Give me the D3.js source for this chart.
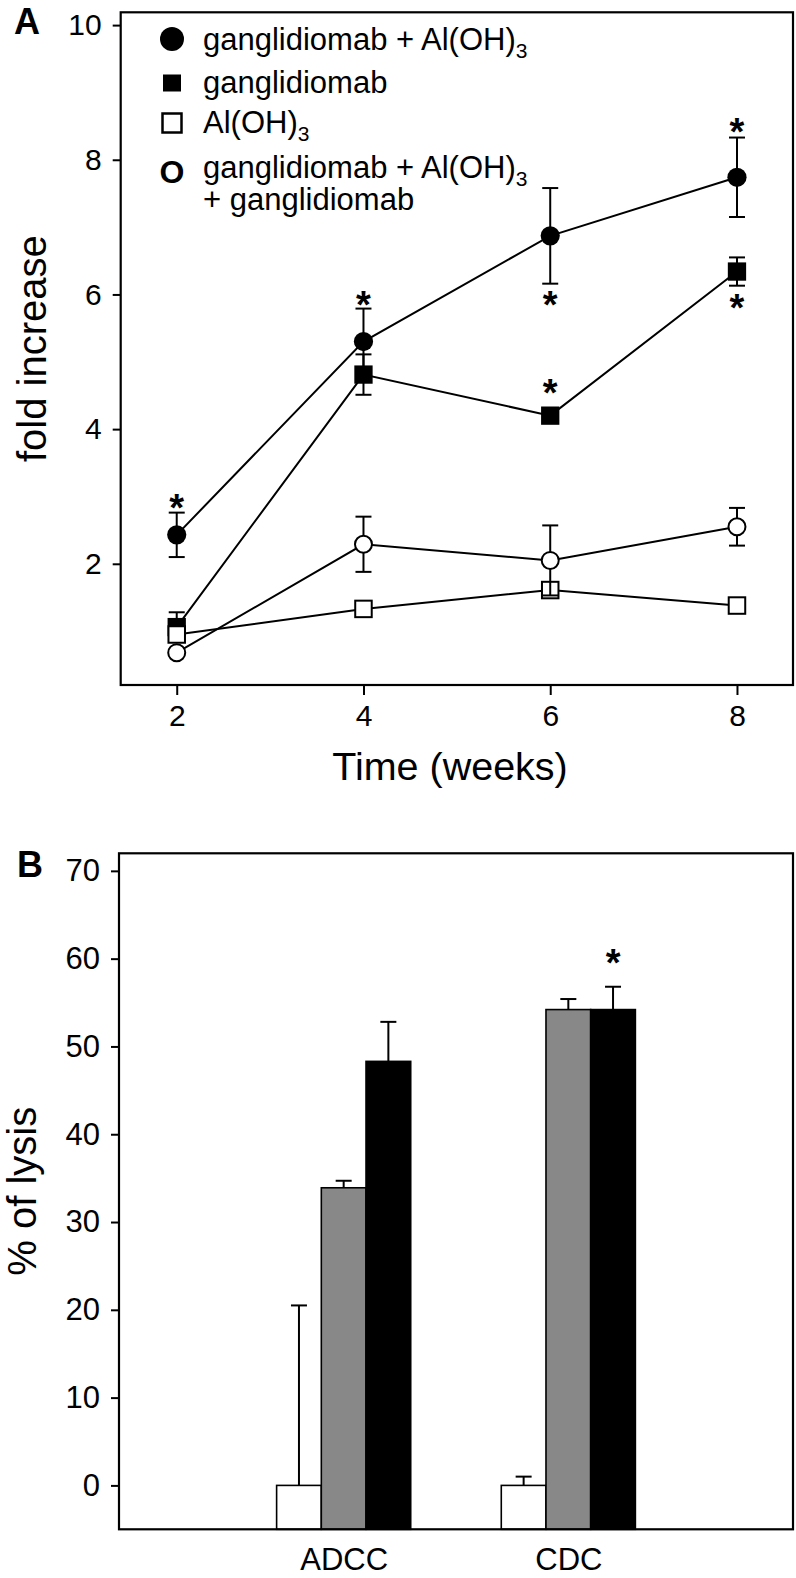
<!DOCTYPE html>
<html><head><meta charset="utf-8">
<script src="https://cdn.jsdelivr.net/npm/d3@7"></script>
<style>body{margin:0;background:#fff} svg{display:block} text{font-family:"Liberation Sans",Arial,Helvetica,sans-serif}</style>
</head><body><svg id="c" width="796" height="1578"></svg>
<script>
// ---------- Panel A data ----------
const weeks = [2, 4, 6, 8];
const xTicksA = [2, 4, 6, 8];
const yTicksA = [2, 4, 6, 8, 10];
const gAlMean = [2.43, 5.30, 6.87, 7.74];   // ganglidiomab + Al(OH)3
const gAlErr  = [0.33, 0.49, 0.71, 0.59];
const gMean   = [1.06, 4.81, 4.20, 6.34];   // ganglidiomab
const gErr    = [0.22, 0.30, 0.00, 0.21];
const alMean  = [0.95, 1.33, 1.61, 1.38];   // Al(OH)3
const alErr   = [0, 0, 0, 0];
const gAlgMean = [0.68, 2.29, 2.05, 2.55];  // ganglidiomab + Al(OH)3 + ganglidiomab
const gAlgErr  = [0, 0.41, 0.52, 0.28];
const starsAWeeks  = [2, 4, 6, 6, 8, 8];
const starsAValues = [2.95, 5.97, 5.96, 4.66, 8.53, 5.92];
const legendLabels = ["ganglidiomab + Al(OH)", "ganglidiomab", "Al(OH)", "ganglidiomab + Al(OH)"];
const legendSub = ["3", "", "3", "3"];
const legendLine2 = ["", "", "", "+ ganglidiomab"];

// ---------- Panel B data ----------
const assays = ["ADCC", "CDC"];
const groupColors = ["#ffffff", "#888888", "#000000"];
const adccMean = [0, 33.9, 48.3];
const adccErr  = [20.5, 0.8, 4.5];
const cdcMean  = [0, 54.2, 54.2];
const cdcErr   = [1.0, 1.2, 2.6];
const yTicksB = [0, 10, 20, 30, 40, 50, 60, 70];
const starsBAssay = ["CDC"];
const starsBGroup = [2];
const starsBValues = [60.5];

const FONT = '"Liberation Sans", Arial, Helvetica, sans-serif';
const svg = d3.select("#c");

function styleAxis(g, fs) {
  g.attr("font-size", fs).attr("font-family", FONT);
  g.select(".domain").remove();
  g.selectAll(".tick line").attr("stroke", "#000").attr("stroke-width", 2);
  g.selectAll(".tick text").attr("fill", "#000");
}
function star(g, x, y) {
  const fs = 38;
  g.append("text").attr("x", x).attr("y", y + 0.56 * fs)
    .attr("text-anchor", "middle").attr("font-size", fs).attr("font-weight", "bold").text("*");
}

// ================= Panel A =================
const A = {x0: 120.7, x1: 793, y0: 12.3, y1: 685};
const xA = d3.scaleLinear().domain([1.4, 8.6]).range([A.x0, A.x1]);
const yA = d3.scaleLinear().domain([0.2, 10.19]).range([A.y1, A.y0]);
const gA = svg.append("g");

gA.append("g").attr("transform", `translate(${A.x0},0)`)
  .call(d3.axisLeft(yA).tickValues(yTicksA).tickSize(8).tickPadding(11))
  .call(g => styleAxis(g, 30));
gA.append("g").attr("transform", `translate(0,${A.y1})`)
  .call(d3.axisBottom(xA).tickValues(xTicksA).tickSize(10).tickPadding(10))
  .call(g => styleAxis(g, 30));
gA.append("rect").attr("x", A.x0).attr("y", A.y0)
  .attr("width", A.x1 - A.x0).attr("height", A.y1 - A.y0)
  .attr("fill", "none").attr("stroke", "#000").attr("stroke-width", 2.2);

const seriesA = [
  {mean: gMean, err: gErr, shape: "square", fill: "#000"},
  {mean: alMean, err: alErr, shape: "square", fill: "#fff"},
  {mean: gAlgMean, err: gAlgErr, shape: "circle", fill: "#fff"},
  {mean: gAlMean, err: gAlErr, shape: "circle", fill: "#000"}
];
const lineA = d3.line().x((d, i) => xA(weeks[i])).y(d => yA(d));
seriesA.forEach(s => {
  gA.append("path").attr("d", lineA(s.mean)).attr("fill", "none")
    .attr("stroke", "#000").attr("stroke-width", 2);
});
seriesA.forEach(s => {
  const eg = gA.append("g").attr("stroke", "#000").attr("stroke-width", 2);
  s.mean.forEach((m, i) => {
    const e = s.err[i];
    if (e <= 0) return;
    const x = xA(weeks[i]);
    eg.append("line").attr("x1", x).attr("x2", x).attr("y1", yA(m - e)).attr("y2", yA(m + e));
    eg.append("line").attr("x1", x - 8).attr("x2", x + 8).attr("y1", yA(m - e)).attr("y2", yA(m - e));
    eg.append("line").attr("x1", x - 8).attr("x2", x + 8).attr("y1", yA(m + e)).attr("y2", yA(m + e));
  });
  const mg = gA.append("g");
  s.mean.forEach((m, i) => {
    const x = xA(weeks[i]), y = yA(m);
    const open = s.fill === "#fff";
    if (s.shape === "circle") {
      mg.append("circle").attr("cx", x).attr("cy", y).attr("r", open ? 8.5 : 9.6)
        .attr("fill", s.fill).attr("stroke", "#000").attr("stroke-width", open ? 2 : 0);
    } else {
      const sz = open ? 16.5 : 18.3;
      mg.append("rect").attr("x", x - sz / 2).attr("y", y - sz / 2).attr("width", sz).attr("height", sz)
        .attr("fill", s.fill).attr("stroke", "#000").attr("stroke-width", open ? 2 : 0);
    }
  });
});
starsAWeeks.forEach((w, i) => star(gA, xA(w), yA(starsAValues[i])));

// legend
const lg = gA.append("g");
const legY = [50, 93, 133, 178];
lg.append("circle").attr("cx", 172).attr("cy", 39).attr("r", 12).attr("fill", "#000");
lg.append("rect").attr("x", 172 - 9).attr("y", 83 - 8.5).attr("width", 18).attr("height", 17).attr("fill", "#000");
lg.append("rect").attr("x", 172 - 9.5).attr("y", 123 - 9.5).attr("width", 19).attr("height", 19)
  .attr("fill", "#fff").attr("stroke", "#000").attr("stroke-width", 2.5);
lg.append("text").attr("x", 172).attr("y", 183).attr("text-anchor", "middle")
  .attr("font-size", 32).attr("font-weight", "bold").text("O");
legendLabels.forEach((t, i) => {
  const tx = lg.append("text").attr("x", 203).attr("y", legY[i]).attr("font-size", 31);
  tx.append("tspan").text(t);
  if (legendSub[i]) tx.append("tspan").attr("font-size", 21).attr("dy", 8).text(legendSub[i]);
  if (legendLine2[i]) lg.append("text").attr("x", 203).attr("y", legY[i] + 32).attr("font-size", 31).text(legendLine2[i]);
});

gA.append("text").attr("x", 14).attr("y", 34).attr("font-size", 36).attr("font-weight", "bold").text("A");
gA.append("text").attr("transform", `translate(46,${(A.y0 + A.y1) / 2}) rotate(-90)`)
  .attr("text-anchor", "middle").attr("font-size", 40).text("fold increase");
gA.append("text").attr("x", 450).attr("y", 780).attr("text-anchor", "middle")
  .attr("font-size", 39.5).text("Time (weeks)");

// ================= Panel B =================
const B = {x0: 119, x1: 793, y0: 853.3, y1: 1529.3};
const xB = d3.scalePoint().domain(assays).range([B.x0, B.x1]).padding(1);
const yB = d3.scaleLinear().domain([-5, 72]).range([B.y1, B.y0]);
const bw = 44.7;
const gB = svg.append("g");

gB.append("g").attr("transform", `translate(${B.x0},0)`)
  .call(d3.axisLeft(yB).tickValues(yTicksB).tickSize(8).tickPadding(11))
  .call(g => styleAxis(g, 31));
gB.append("g").attr("transform", `translate(0,${B.y1})`)
  .call(d3.axisBottom(xB).tickSize(0).tickPadding(19))
  .call(g => styleAxis(g, 31));

const barData = [adccMean, cdcMean];
const errData = [adccErr, cdcErr];
assays.forEach((a, ai) => {
  barData[ai].forEach((v, gi) => {
    const x = xB(a) + (gi - 1.5) * bw;
    gB.append("rect").attr("x", x).attr("y", yB(v)).attr("width", bw)
      .attr("height", yB(-5) - yB(v)).attr("fill", groupColors[gi])
      .attr("stroke", "#000").attr("stroke-width", 1.6);
  });
  barData[ai].forEach((v, gi) => {
    const e = errData[ai][gi];
    const cx = xB(a) + (gi - 1) * bw;
    gB.append("line").attr("x1", cx).attr("x2", cx).attr("y1", yB(v)).attr("y2", yB(v + e))
      .attr("stroke", "#000").attr("stroke-width", 2);
    gB.append("line").attr("x1", cx - 8).attr("x2", cx + 8).attr("y1", yB(v + e)).attr("y2", yB(v + e))
      .attr("stroke", "#000").attr("stroke-width", 2);
  });
});
starsBAssay.forEach((a, i) => star(gB, xB(a) + (starsBGroup[i] - 1) * bw, yB(starsBValues[i])));

gB.append("rect").attr("x", B.x0).attr("y", B.y0)
  .attr("width", B.x1 - B.x0).attr("height", B.y1 - B.y0)
  .attr("fill", "none").attr("stroke", "#000").attr("stroke-width", 2.2);
gB.append("text").attr("x", 17).attr("y", 877).attr("font-size", 36).attr("font-weight", "bold").text("B");
gB.append("text").attr("transform", `translate(36,${(B.y0 + B.y1) / 2}) rotate(-90)`)
  .attr("text-anchor", "middle").attr("font-size", 40).text("% of lysis");
</script></body></html>
